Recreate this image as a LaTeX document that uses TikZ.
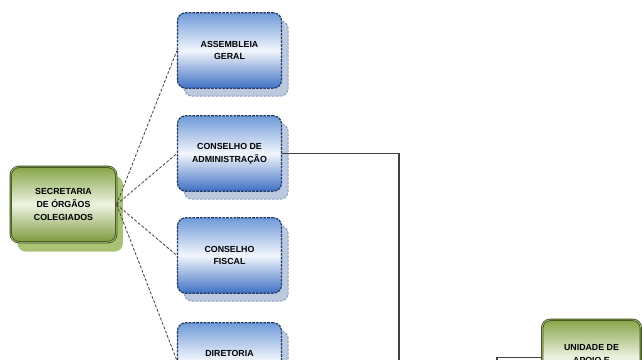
\documentclass[tikz,border=0pt]{standalone}
\usepackage{fontspec}
\setmainfont{Liberation Sans}
\usetikzlibrary{shadows}
\definecolor{bluetop}{HTML}{6F9AD8}
\definecolor{bluemid}{HTML}{F2F6FC}
\definecolor{bluebot}{HTML}{3F70C4}
\definecolor{blueedge}{HTML}{1F3766}
\definecolor{blueshadow}{HTML}{BCC9DE}
\definecolor{blueshedge}{HTML}{8EA1C2}
\definecolor{greentop}{HTML}{86A548}
\definecolor{greenmid}{HTML}{EEF3E2}
\definecolor{greenbot}{HTML}{7C9A3C}
\definecolor{greenedge}{HTML}{3A4C14}
\definecolor{greenshadow}{HTML}{A9C274}
\definecolor{linegray}{HTML}{404040}
\tikzset{
  boxtext/.style={font=\bfseries\fontsize{6.6}{9.6}\selectfont, text=black, align=center},
  bluebox/.style={rounded corners=6pt, minimum width=78pt, minimum height=56.5pt,
    top color=bluetop, bottom color=bluebot, middle color=bluemid,
    draw=blueedge, line width=0.9pt, dash pattern=on 2pt off 0.8pt,
    general shadow={shadow xshift=5pt, shadow yshift=-6pt, fill=blueshadow,
      draw=blueshedge, line width=0.8pt, dash pattern=on 2pt off 1pt},
    boxtext},
  greenbox/.style={rounded corners=6pt, minimum width=79pt, minimum height=56.5pt,
    top color=greentop, bottom color=greenbot, middle color=greenmid,
    draw=greenedge, line width=0.6pt, double=greentop!60, double distance=0.5pt,
    general shadow={shadow xshift=5pt, shadow yshift=-7pt, fill=greenshadow},
    boxtext},
  dashlink/.style={draw=linegray, line width=0.6pt, dash pattern=on 2.2pt off 1.3pt},
  solidlink/.style={draw=linegray, line width=0.9pt}
}
\begin{document}
\begin{tikzpicture}[x=0.75pt,y=-0.75pt]
\useasboundingbox (0,0) rectangle (642,360);
\clip (0,0) rectangle (642,360);
% boxes
\node[greenbox] (sec) at (63.5,204.5) {SECRETARIA\\DE ÓRGÃOS\\COLEGIADOS};
\node[bluebox] (ag) at (229.5,50.5) {ASSEMBLEIA\\GERAL};
\node[bluebox] (ca) at (229.5,153.5) {CONSELHO DE\\ADMINISTRAÇÃO};
\node[bluebox] (cf) at (229.5,255.5) {CONSELHO\\FISCAL};
\node[bluebox] (dir) at (229.5,360.5) {};
\node[boxtext] (dirtext) at (229.5,353) {DIRETORIA};
\node[greenbox, minimum width=74pt] (uni) at (591.5,357.5) {};
\node[boxtext, anchor=north] (unitext) at (591.5,340) {UNIDADE DE\\APOIO E\\};
% dashed links
\draw[dashlink] (sec.east) -- (ag.west);
\draw[dashlink] (sec.east) -- (ca.west);
\draw[dashlink] (sec.east) -- (cf.west);
\draw[dashlink] (sec.east) -- (dir.west);
% solid links
\coordinate (cornerA) at (399,153.5);
\coordinate (downA) at (399,370);
\draw[solidlink] (ca.east) -- (cornerA) -- (downA);
\coordinate (cornerB) at (497,357.5);
\coordinate (downB) at (497,370);
\draw[solidlink] (uni.west) -- (cornerB) -- (downB);
\end{tikzpicture}
\end{document}
